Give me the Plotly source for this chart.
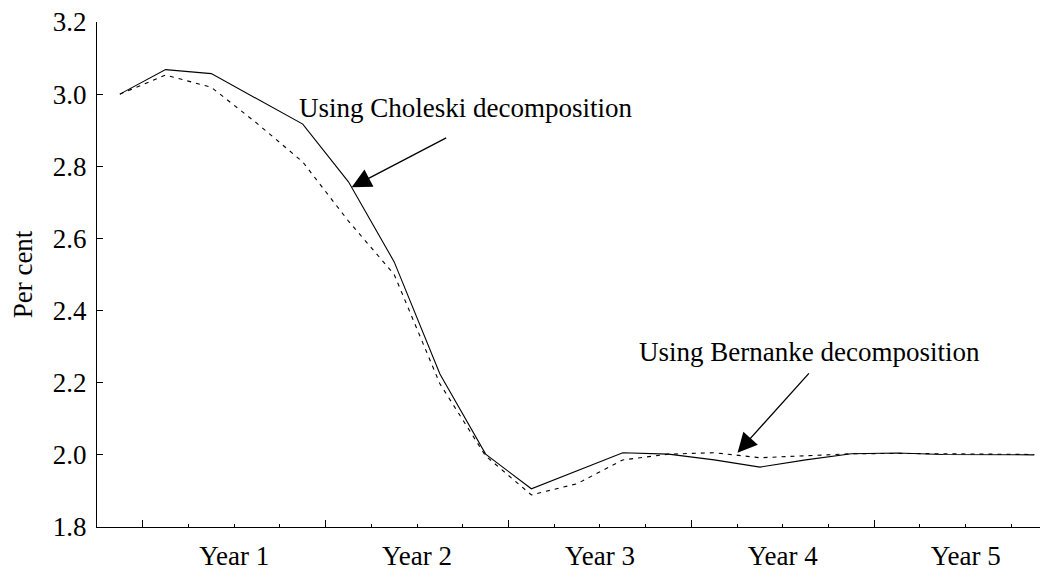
import plotly.graph_objects as go

# quarters after the shock (0 = impact quarter)
quarters = list(range(21))

# Using Choleski decomposition (solid line)
choleski = [3.00, 3.068, 3.057, 2.988, 2.917, 2.757, 2.535, 2.224, 2.002, 1.906,
            1.956, 2.006, 2.002, 1.986, 1.966, 1.986, 2.003, 2.005, 2.001, 2.001, 2.000]

# Using Bernanke decomposition (dashed line)
bernanke = [3.00, 3.053, 3.019, 2.919, 2.812, 2.648, 2.50, 2.197, 1.997, 1.889,
            1.920, 1.986, 2.002, 2.006, 1.992, 1.997, 2.003, 2.004, 2.002, 2.002, 2.001]

year_labels = ["Year 1", "Year 2", "Year 3", "Year 4", "Year 5"]
year_pos = [2.5, 6.5, 10.5, 14.5, 18.5]
year_ticks = [0.5, 4.5, 8.5, 12.5, 16.5]
quarter_ticks = [q + 0.5 for q in range(20)]
y_ticks = [1.8, 2.0, 2.2, 2.4, 2.6, 2.8, 3.0, 3.2]

FONT = "Liberation Serif, Times New Roman, serif"

fig = go.Figure()

fig.add_trace(go.Scatter(x=quarters, y=choleski, mode="lines",
                         line=dict(color="black", width=1.1),
                         name="Using Choleski decomposition"))
fig.add_trace(go.Scatter(x=quarters, y=bernanke, mode="lines", xaxis="x2",
                         line=dict(color="black", width=1.1, dash="4px,5px"),
                         name="Using Bernanke decomposition"))

# annotations with arrows
fig.add_annotation(x=7.55, y=2.961, text="Using Choleski decomposition",
                   showarrow=False, font=dict(size=27))
fig.add_annotation(x=5.07, y=2.742, ax=7.17, ay=2.881, axref="x", ayref="y",
                   text="", showarrow=True, arrowhead=2, arrowsize=3,
                   arrowwidth=1.3, arrowcolor="black")
fig.add_annotation(x=15.08, y=2.285, text="Using Bernanke decomposition",
                   showarrow=False, font=dict(size=27))
fig.add_annotation(x=13.51, y=2.006, ax=15.10, ay=2.23, axref="x", ayref="y",
                   text="", showarrow=True, arrowhead=2, arrowsize=3,
                   arrowwidth=1.3, arrowcolor="black")

# page body adds an 8px margin, so the figure is a little smaller
fig.update_layout(
    width=1040, height=570,
    margin=dict(l=89, r=0, t=14, b=51, autoexpand=False),
    paper_bgcolor="white", plot_bgcolor="white",
    showlegend=False,
    font=dict(family=FONT, size=27, color="black"),
    xaxis=dict(
        range=[-0.5, 20.3], automargin=False,
        tickmode="array", tickvals=year_pos, ticktext=year_labels,
        ticks="", ticklabelstandoff=4, ticklabeloverflow="allow",
        showline=True, linecolor="black", linewidth=1.2,
        showgrid=False, zeroline=False,
    ),
    xaxis2=dict(
        overlaying="x", matches="x", side="bottom", automargin=False,
        tickmode="array", tickvals=year_ticks, ticks="inside", ticklen=7,
        tickcolor="black", tickwidth=1, showticklabels=False,
        minor=dict(tickmode="array", tickvals=quarter_ticks, ticks="inside",
                   ticklen=3, tickcolor="black", tickwidth=1),
        showline=False, showgrid=False, zeroline=False,
    ),
    yaxis=dict(
        range=[1.8, 3.2], tickmode="array", tickvals=y_ticks,
        tickformat=".1f", automargin=False, ticklabeloverflow="allow",
        ticks="inside", ticklen=6, tickcolor="black",
        ticklabelstandoff=4,
        showline=True, linecolor="black", linewidth=1.2,
        showgrid=False, zeroline=False,
        title=dict(text="Per cent", font=dict(size=27), standoff=16),
    ),
)

fig.write_html("out.html")
